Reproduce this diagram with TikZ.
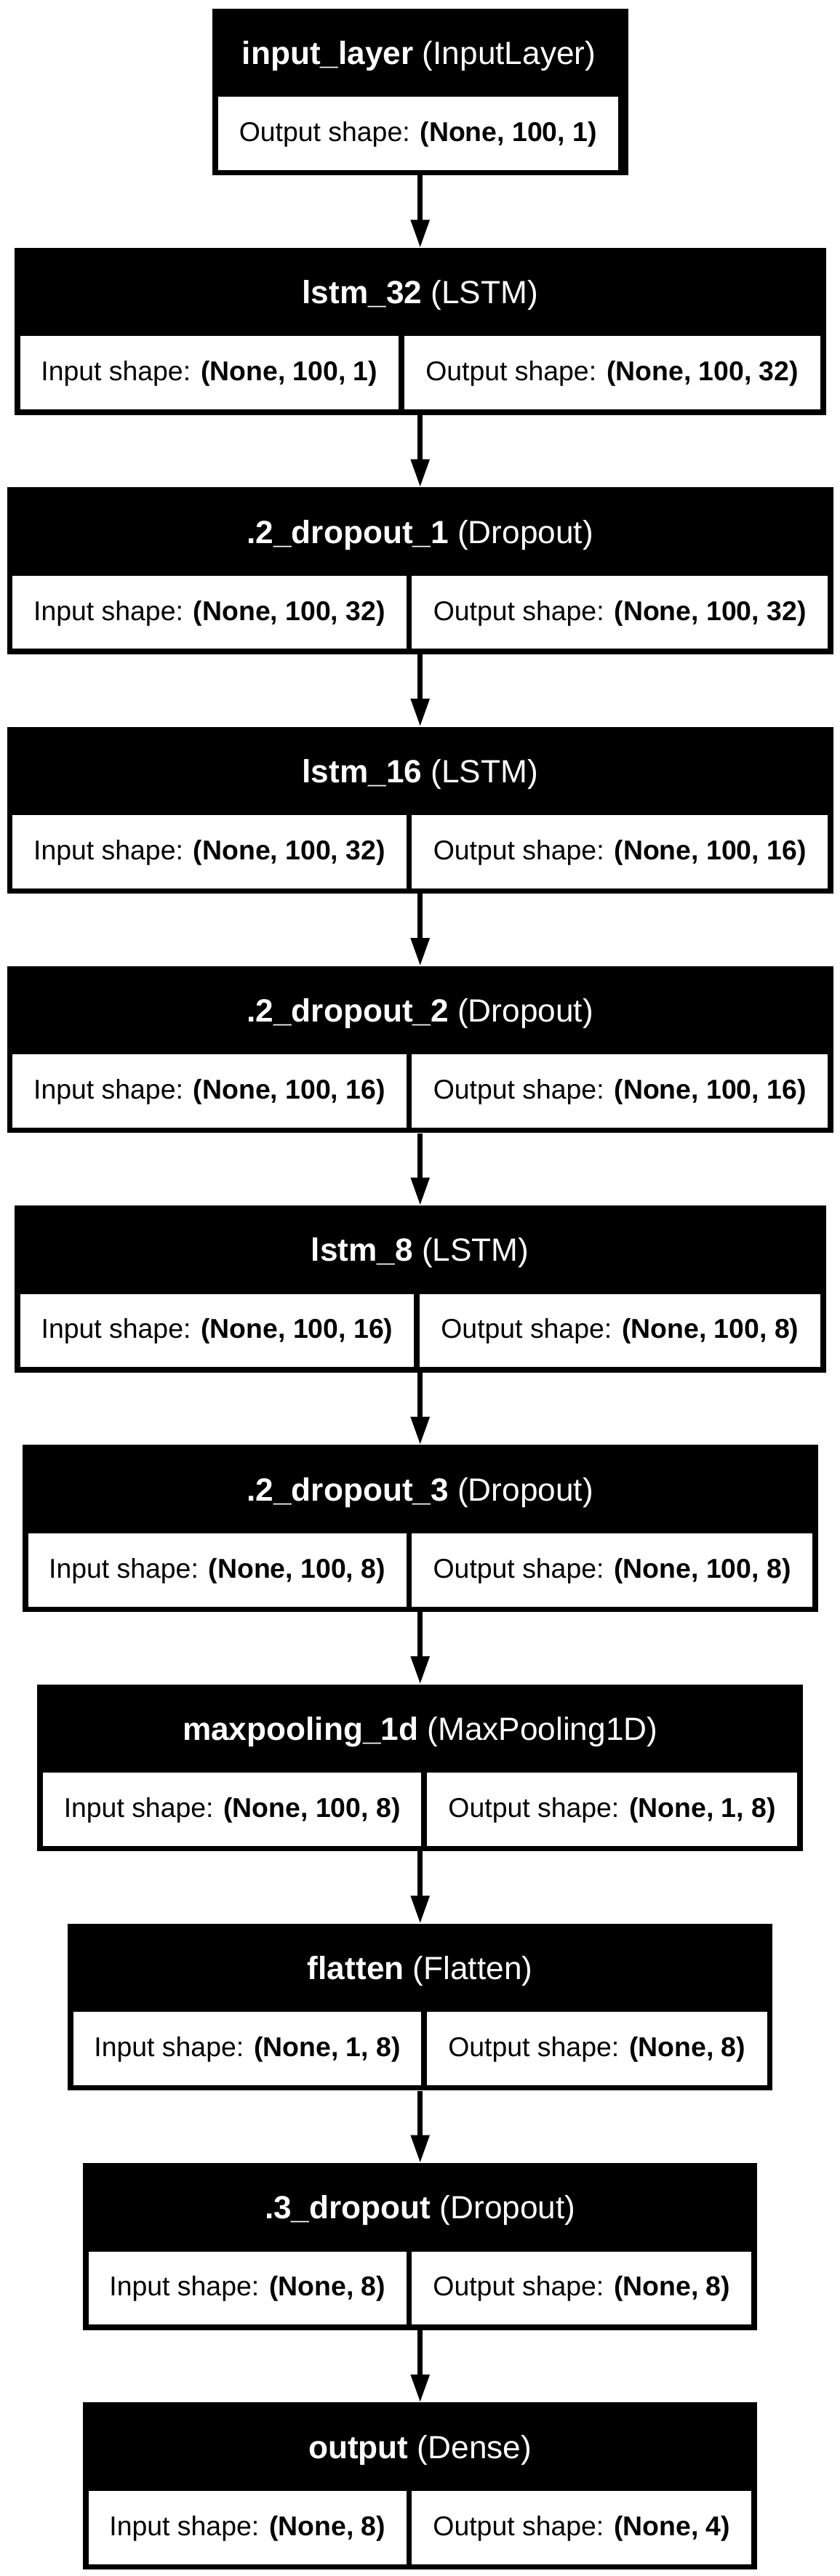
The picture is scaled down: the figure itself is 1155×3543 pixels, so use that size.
\documentclass[tikz,border=0pt]{standalone}
\usepackage{fontspec}
\setmainfont{Liberation Sans}
\usetikzlibrary{arrows.meta}

\tikzset{
  layerbox/.style={fill=black, inner sep=0pt, anchor=north, minimum height=229.5pt},
  headtext/.style={text=white, anchor=base, inner sep=0pt, font=\fontsize{44.2}{50}\selectfont},
  shapecell/.style={fill=white, inner sep=0pt, minimum height=100.8pt, text height=30pt, text depth=8pt, font=\fontsize{37.4}{44}\selectfont},
  flow/.style={line width=7pt, -{Triangle[length=38.4pt, width=24.5pt]}}
}

\begin{document}
\begin{tikzpicture}[x=1pt, y=-1pt]
  \useasboundingbox (0,0) rectangle (1155,3543);

  % Input layer
  \node[layerbox, minimum width=571.8pt] (inputlayer) at (577.7, 11.5) {};
  \node[headtext] (inputlayer-t) at (576, 88.5) {\textbf{input\_layer} (InputLayer)};
  \node[shapecell, minimum width=550.4pt] (inputlayer-out) at (574.8, 183.5) {Output shape: \textbf{(None, 100, 1)}};

  % LSTM 32
  \node[layerbox, minimum width=1115.6pt] (lstm32) at (577.7, 340.8) {};
  \node[headtext] (lstm32-t) at (577.7, 417.8) {\textbf{lstm\_32} (LSTM)};
  \node[shapecell, minimum width=520.2pt] (lstm32-in) at (287.8, 512.8) {Input shape: \textbf{(None, 100, 1)}};
  \node[shapecell, minimum width=572.1pt] (lstm32-out) at (841.65, 512.8) {Output shape: \textbf{(None, 100, 32)}};

  % Dropout 1
  \node[layerbox, minimum width=1136.2pt] (drop1) at (577.7, 670.0) {};
  \node[headtext] (drop1-t) at (577.7, 747.0) {\textbf{.2\_dropout\_1} (Dropout)};
  \node[shapecell, minimum width=541.2pt] (drop1-in) at (288, 842.0) {Input shape: \textbf{(None, 100, 32)}};
  \node[shapecell, minimum width=571.7pt] (drop1-out) at (852.15, 842.0) {Output shape: \textbf{(None, 100, 32)}};

  % LSTM 16
  \node[layerbox, minimum width=1136.2pt] (lstm16) at (577.7, 999.3) {};
  \node[headtext] (lstm16-t) at (577.7, 1076.3) {\textbf{lstm\_16} (LSTM)};
  \node[shapecell, minimum width=541.2pt] (lstm16-in) at (288, 1171.3) {Input shape: \textbf{(None, 100, 32)}};
  \node[shapecell, minimum width=571.7pt] (lstm16-out) at (852.15, 1171.3) {Output shape: \textbf{(None, 100, 16)}};

  % Dropout 2
  \node[layerbox, minimum width=1136.2pt] (drop2) at (577.7, 1328.6) {};
  \node[headtext] (drop2-t) at (577.7, 1405.6) {\textbf{.2\_dropout\_2} (Dropout)};
  \node[shapecell, minimum width=541.2pt] (drop2-in) at (288, 1500.6) {Input shape: \textbf{(None, 100, 16)}};
  \node[shapecell, minimum width=571.7pt] (drop2-out) at (852.15, 1500.6) {Output shape: \textbf{(None, 100, 16)}};

  % LSTM 8
  \node[layerbox, minimum width=1115.6pt] (lstm8) at (577.7, 1657.9) {};
  \node[headtext] (lstm8-t) at (577.7, 1734.9) {\textbf{lstm\_8} (LSTM)};
  \node[shapecell, minimum width=541.6pt] (lstm8-in) at (298.5, 1829.9) {Input shape: \textbf{(None, 100, 16)}};
  \node[shapecell, minimum width=550.7pt] (lstm8-out) at (852.35, 1829.9) {Output shape: \textbf{(None, 100, 8)}};

  % Dropout 3
  \node[layerbox, minimum width=1094pt] (drop3) at (577.7, 1987.1) {};
  \node[headtext] (drop3-t) at (577.7, 2064.1) {\textbf{.2\_dropout\_3} (Dropout)};
  \node[shapecell, minimum width=520.1pt] (drop3-in) at (298.55, 2159.1) {Input shape: \textbf{(None, 100, 8)}};
  \node[shapecell, minimum width=550.6pt] (drop3-out) at (841.6, 2159.1) {Output shape: \textbf{(None, 100, 8)}};

  % Max pooling
  \node[layerbox, minimum width=1052.8pt] (maxpool) at (577.7, 2316.4) {};
  \node[headtext] (maxpool-t) at (577.7, 2393.4) {\textbf{maxpooling\_1d} (MaxPooling1D)};
  \node[shapecell, minimum width=520.2pt] (maxpool-in) at (319.2, 2488.4) {Input shape: \textbf{(None, 100, 8)}};
  \node[shapecell, minimum width=509.3pt] (maxpool-out) at (841.65, 2488.4) {Output shape: \textbf{(None, 1, 8)}};

  % Flatten
  \node[layerbox, minimum width=969.2pt] (flatten) at (577.7, 2645.7) {};
  \node[headtext] (flatten-t) at (577.7, 2722.7) {\textbf{flatten} (Flatten)};
  \node[shapecell, minimum width=478.4pt] (flatten-in) at (340.1, 2817.7) {Input shape: \textbf{(None, 1, 8)}};
  \node[shapecell, minimum width=467.5pt] (flatten-out) at (820.75, 2817.7) {Output shape: \textbf{(None, 8)}};

  % Dropout 4
  \node[layerbox, minimum width=927pt] (drop4) at (577.7, 2974.9) {};
  \node[headtext] (drop4-t) at (577.7, 3051.9) {\textbf{.3\_dropout} (Dropout)};
  \node[shapecell, minimum width=436.6pt] (drop4-in) at (340.3, 3146.9) {Input shape: \textbf{(None, 8)}};
  \node[shapecell, minimum width=467.1pt] (drop4-out) at (799.85, 3146.9) {Output shape: \textbf{(None, 8)}};

  % Dense output
  \node[layerbox, minimum width=927pt] (dense) at (577.7, 3304.2) {};
  \node[headtext] (dense-t) at (577.7, 3381.2) {\textbf{output} (Dense)};
  \node[shapecell, minimum width=436.6pt] (dense-in) at (340.3, 3476.2) {Input shape: \textbf{(None, 8)}};
  \node[shapecell, minimum width=467.1pt] (dense-out) at (799.85, 3476.2) {Output shape: \textbf{(None, 4)}};

  % Edges
  \draw[flow] (inputlayer.south) -- (lstm32.north);
  \draw[flow] (lstm32.south) -- (drop1.north);
  \draw[flow] (drop1.south) -- (lstm16.north);
  \draw[flow] (lstm16.south) -- (drop2.north);
  \draw[flow] (drop2.south) -- (lstm8.north);
  \draw[flow] (lstm8.south) -- (drop3.north);
  \draw[flow] (drop3.south) -- (maxpool.north);
  \draw[flow] (maxpool.south) -- (flatten.north);
  \draw[flow] (flatten.south) -- (drop4.north);
  \draw[flow] (drop4.south) -- (dense.north);
\end{tikzpicture}
\end{document}
